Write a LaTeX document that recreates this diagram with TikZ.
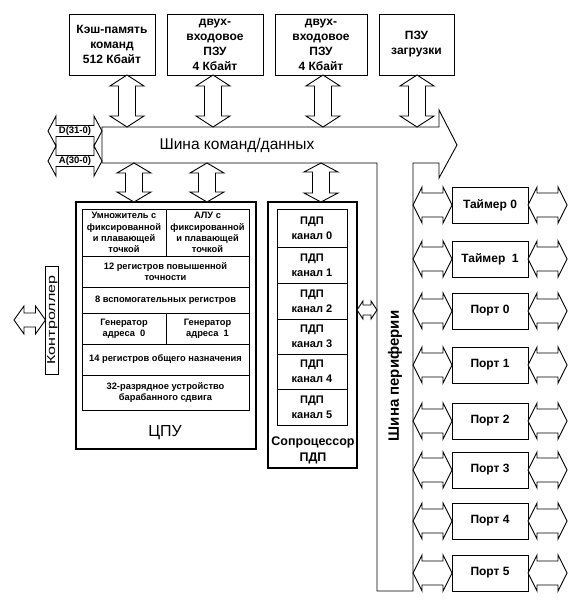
\documentclass[tikz,border=0pt]{standalone}
\usepackage{fontspec}
\usepackage{graphicx}
\setmainfont{Liberation Sans}
\newcommand\HArr[6]{% x1,x2,yc,headlen,headhalf,shafthalf
\draw[fill=white] (#1,#3) -- (#1+#4,#3-#5) -- (#1+#4,#3-#6) -- (#2-#4,#3-#6) -- (#2-#4,#3-#5) -- (#2,#3) -- (#2-#4,#3+#5) -- (#2-#4,#3+#6) -- (#1+#4,#3+#6) -- (#1+#4,#3+#5) -- cycle;}
\newcommand\VArr[6]{% xc,y1,y2,headlen,headhalf,shafthalf
\draw[fill=white] (#1,#2) -- (#1+#5,#2+#4) -- (#1+#6,#2+#4) -- (#1+#6,#3-#4) -- (#1+#5,#3-#4) -- (#1,#3) -- (#1-#5,#3-#4) -- (#1-#6,#3-#4) -- (#1-#6,#2+#4) -- (#1-#5,#2+#4) -- cycle;}
\begin{document}
\begin{tikzpicture}[x=1pt,y=-1pt,line width=0.9pt,
  box/.style={draw,fill=white,inner sep=0pt,align=center},
  topbox/.style={box,minimum height=61pt,font=\bfseries\fontsize{12}{15}\selectfont},
  cell/.style={box,font=\bfseries\fontsize{9.3}{11.3}\selectfont},
  dma/.style={box,minimum width=70pt,font=\bfseries\fontsize{11}{15}\selectfont},
  per/.style={box,minimum width=76pt,minimum height=36pt,font=\bfseries\fontsize{12}{14}\selectfont}]
\useasboundingbox (0,0) rectangle (581,604);
% top boxes
\node[topbox,minimum width=86pt] (kesh) at (112,44.5) {Кэш-память\\команд\\512 Кбайт};
\node[topbox,minimum width=96pt] (pzu1) at (215,44.5) {двух-\\входовое\\ПЗУ\\4 Кбайт};
\node[topbox,minimum width=92pt] (pzu2) at (321,44.5) {двух-\\входовое\\ПЗУ\\4 Кбайт};
\node[topbox,minimum width=75pt] (pzu3) at (416.5,44.5) {ПЗУ\\загрузки};
% buses
\draw[fill=white] (102,127) -- (439,127) -- (439,110) -- (457,145) -- (439,178) -- (439,163) -- (413,163) -- (413,591) -- (377,591) -- (377,163) -- (102,163) -- cycle;
\node[font=\fontsize{15.5}{16}\selectfont] (buslbl) at (237,145) {Шина команд/данных};
\node[rotate=90,font=\bfseries\fontsize{15}{16}\selectfont] (perlbl) at (395,376) {Шина периферии};
% arrows top boxes - bus
\VArr{127}{75}{127}{11}{17}{8.5}
\VArr{213}{75}{127}{11}{17}{8.5}
\VArr{323}{75}{127}{11}{17}{8.5}
\VArr{417}{75}{127}{11}{17}{8.5}
% D / A
\HArr{48}{102}{131}{8}{15}{5.5}
\HArr{48}{102}{161}{8}{15}{5.5}
\node[font=\bfseries\fontsize{9.5}{10}\selectfont] (dl) at (75,131) {D(31-0)};
\node[font=\bfseries\fontsize{9.5}{10}\selectfont] (al) at (75,161) {A(30-0)};
% CPU
\node[draw,line width=1.2pt,minimum width=180pt,minimum height=247pt,inner sep=0pt] (cpu) at (166,325.5) {};
\VArr{134}{163}{202}{10}{17}{8.5}
\VArr{207}{163}{202}{10}{17}{8.5}
\node[cell,minimum width=84pt,minimum height=47pt] (mul) at (124,232.5) {Умножитель с\\фиксированной\\и плавающей\\точкой};
\node[cell,minimum width=83pt,minimum height=47pt] (alu) at (207.5,232.5) {АЛУ с\\фиксированной\\и плавающей\\точкой};
\node[cell,minimum width=167pt,minimum height=31pt] (r12) at (165.5,271.5) {12 регистров повышенной\\точности};
\node[cell,minimum width=167pt,minimum height=26pt] (r8) at (165.5,300) {8 вспомогательных регистров};
\node[cell,minimum width=84pt,minimum height=31pt] (g0) at (124,328.5) {Генератор\\адреса\ \ 0};
\node[cell,minimum width=83pt,minimum height=31pt] (g1) at (207.5,328.5) {Генератор\\адреса\ \ 1};
\node[cell,minimum width=167pt,minimum height=31pt] (r14) at (165.5,359.5) {14 регистров общего назначения};
\node[cell,minimum width=167pt,minimum height=35pt] (shift) at (165.5,392.5) {32-разрядное устройство\\барабанного сдвига};
\node[font=\fontsize{16}{16}\selectfont] (cpulbl) at (165,433) {ЦПУ};
% controller
\node[draw,rotate=90,minimum width=108pt,inner xsep=0pt,inner ysep=0.8pt,text height=8.4pt,text depth=2.4pt,font=\fontsize{11.5}{12}\selectfont] (ctrl) at (52,320) {\scalebox{1.4}[1]{Контроллер}};
\HArr{14}{45.5}{320}{10}{14}{7}
% DMA
\node[draw,line width=1.2pt,minimum width=89pt,minimum height=266pt,inner sep=0pt] (dmabox) at (312.5,335) {};
\VArr{321}{163}{202}{9}{17}{8.5}
\node[dma,minimum height=38pt] (c0) at (312,228) {ПДП\\канал 0};
\node[dma,minimum height=36pt] (c1) at (312,265) {ПДП\\канал 1};
\node[dma,minimum height=36pt] (c2) at (312,301) {ПДП\\канал 2};
\node[dma,minimum height=35pt] (c3) at (312,336.5) {ПДП\\канал 3};
\node[dma,minimum height=35pt] (c4) at (312,371.5) {ПДП\\канал 4};
\node[dma,minimum height=36pt] (c5) at (312,407) {ПДП\\канал 5};
\node[align=center,font=\bfseries\fontsize{12.5}{16}\selectfont] (dmalbl) at (313,450) {Сопроцессор\\ПДП};
\HArr{357}{377}{310}{6}{9}{5}
% peripherals
\foreach \n/\t/\yy in {t0/Таймер 0/205, t1/Таймер\ \ 1/259, p0/Порт 0/311, p1/Порт 1/365, p2/Порт 2/421, p3/Порт 3/470, p4/Порт 4/521, p5/Порт 5/573}{
  \node[per] (\n) at (490,\yy) {\t};
  \HArr{413}{452}{\yy}{9}{18}{12}
  \HArr{528}{567}{\yy}{9}{18}{12}
}
\end{tikzpicture}
\end{document}
